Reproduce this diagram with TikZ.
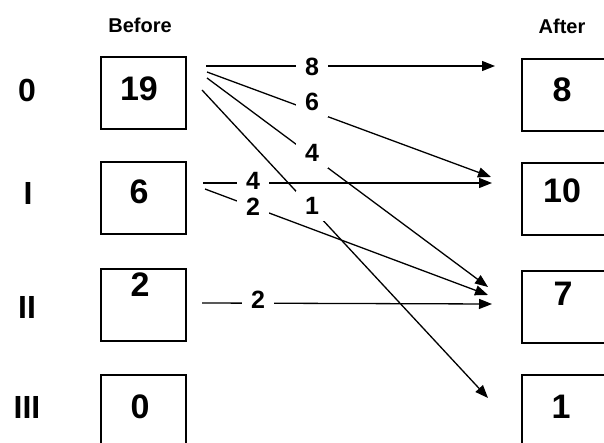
\documentclass[tikz,border=0pt]{standalone}
\usepackage{fontspec}
\setmainfont{Liberation Sans}
\usetikzlibrary{arrows.meta}
\begin{document}
\begin{tikzpicture}[x=1bp,y=-1bp,
  bbox/.style={draw, line width=1.6bp, minimum width=85bp, minimum height=72bp, inner sep=0pt},
  abox/.style={bbox, minimum width=86bp},
  num/.style={font=\fontsize{34bp}{34bp}\selectfont\bfseries, inner sep=0pt},
  rowlbl/.style={font=\fontsize{32bp}{32bp}\selectfont\bfseries, inner sep=0pt},
  head/.style={font=\fontsize{20bp}{20bp}\selectfont\bfseries, inner sep=0pt},
  lbl/.style={font=\fontsize{25bp}{25bp}\selectfont\bfseries, fill=white, inner xsep=9.5bp, inner ysep=6.5bp},
  arr/.style={line width=1.3bp, -{Triangle[length=13bp,width=10bp]}}]
\useasboundingbox (0,0) rectangle (604,443);
\clip (0,0) rectangle (604,443);
\fill[white] (0,0) rectangle (604,443);

% headers
\node[head] (hb) at (140,25) {Before};
\node[head] (ha) at (562,26) {After};

% row labels
\node[rowlbl] (r0) at (27,90) {0};
\node[rowlbl] (r1) at (28,193) {I};
\node[rowlbl] (r2) at (27,307) {II};
\node[rowlbl] (r3) at (27,407) {III};

% before boxes
\node[bbox] (b0) at (143.5,93) {};
\node[bbox] (b1) at (143.5,198) {};
\node[bbox] (b2) at (143.5,305) {};
\node[bbox] (b3) at (143.5,411) {};
\node[num] (nb0) at ([xshift=-4.5bp,yshift=4bp]b0.center) {19};
\node[num] (nb1) at ([xshift=-4.5bp,yshift=6bp]b1.center) {6};
\node[num] (nb2) at ([xshift=-3.5bp,yshift=20bp]b2.center) {2};
\node[num] (nb3) at ([xshift=-3.5bp,yshift=4bp]b3.center) {0};

% after boxes
\node[abox] (a0) at (565,95) {};
\node[abox] (a1) at (565,199) {};
\node[abox] (a2) at (565,307) {};
\node[abox] (a3) at (565,411) {};
\node[num] (na0) at ([xshift=-3bp,yshift=5bp]a0.center) {8};
\node[num] (na1) at ([xshift=-3bp,yshift=8bp]a1.center) {10};
\node[num] (na2) at ([xshift=-2bp,yshift=13bp]a2.center) {7};
\node[num] (na3) at ([xshift=-4bp,yshift=4bp]a3.center) {1};

% connector ends
\coordinate (s8) at (206,66);   \coordinate (t8) at (495,66);
\coordinate (s6) at (207,72);   \coordinate (t6) at (491,177);
\coordinate (s4) at (207,78);   \coordinate (t4) at (488,287);
\coordinate (s1) at (202,90);   \coordinate (t1) at (488,398);
\coordinate (u4) at (203,183);  \coordinate (v4) at (492,183);
\coordinate (u2) at (205,189);  \coordinate (v2) at (488,295);
\coordinate (w2) at (202,303);  \coordinate (z2) at (492,304);

\draw[arr] (s8) -- (t8);
\draw[arr] (s6) -- (t6);
\draw[arr] (s4) -- (t4);
\draw[arr] (s1) -- (t1);
\draw[arr] (u4) -- (v4);
\draw[arr] (u2) -- (v2);
\draw[arr] (w2) -- (z2);

% flow labels
\node[lbl] (l8) at (312,67) {8};
\node[lbl] (l6) at (312,102) {6};
\node[lbl] (l4) at (312,153) {4};
\node[lbl] (l1) at (312,206) {1};
\node[lbl] (m4) at (253,181) {4};
\node[lbl] (m2) at (253,207) {2};
\node[lbl] (k2) at (258,300) {2};
\end{tikzpicture}
\end{document}
